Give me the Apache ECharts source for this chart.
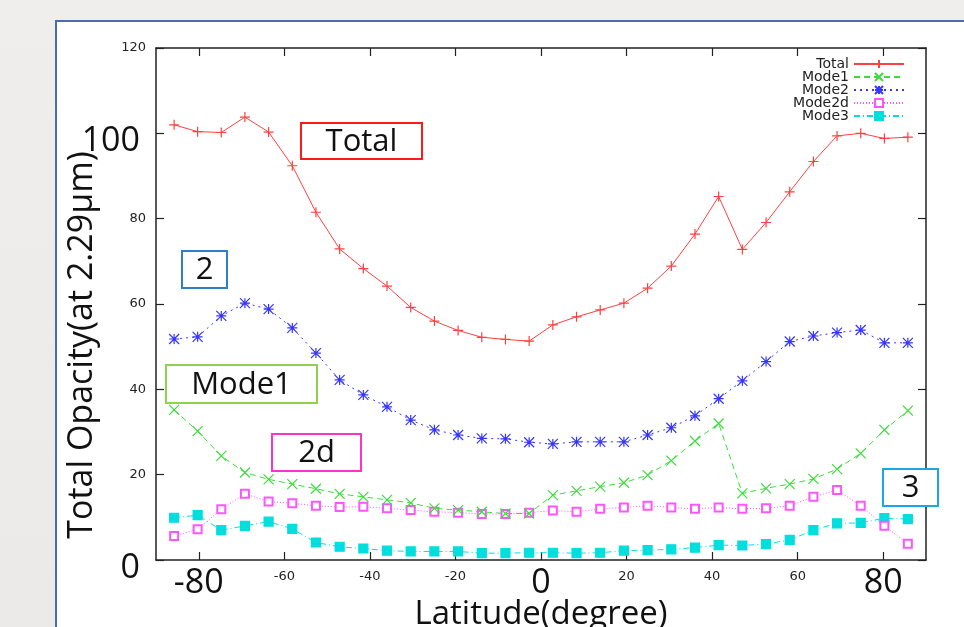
<!DOCTYPE html>
<html>
<head>
<meta charset="utf-8">
<script src="https://cdn.jsdelivr.net/npm/echarts@6/dist/echarts.min.js"></script>
<style>
  html, body { margin: 0; padding: 0; width: 964px; height: 627px; overflow: hidden;
    background: linear-gradient(#efeeec, #ebeae8); }
  #frame { position: absolute; left: 55px; top: 20px; width: 1000px; height: 700px;
    background: #ffffff; border: 2px solid #4a6fa8; }
  #chart { position: absolute; left: 0; top: 0; width: 964px; height: 627px; }
</style>
</head>
<body>
<div id="frame"></div>
<div id="chart"></div>
<script>
// Latitudes (degree) of the data points
const latitudes = [-85.76, -80.27, -74.74, -69.21, -63.68, -58.14, -52.61, -47.07, -41.53, -36.00,
  -30.46, -24.92, -19.38, -13.84, -8.31, -2.77, 2.77, 8.31, 13.84, 19.38, 24.92, 30.46, 36.00,
  41.53, 47.07, 52.61, 58.14, 63.68, 69.21, 74.74, 80.27, 85.76];

const total  = [102.0, 100.4, 100.2, 103.8, 100.3, 92.4, 81.5, 72.9, 68.3, 64.2, 59.2, 56.0, 53.8, 52.2, 51.7, 51.3,
  55.1, 57.0, 58.6, 60.2, 63.7, 68.9, 76.4, 85.2, 72.8, 79.1, 86.3, 93.4, 99.4, 100.0, 98.8, 99.1];
const mode1  = [35.2, 30.2, 24.4, 20.5, 18.9, 17.8, 16.7, 15.5, 14.8, 14.1, 13.4, 12.1, 11.7, 11.3, 10.9, 10.9,
  15.2, 16.2, 17.2, 18.1, 19.9, 23.3, 27.9, 32.0, 15.6, 16.8, 17.8, 19.0, 21.3, 25.0, 30.5, 35.0];
const mode2  = [51.8, 52.3, 57.2, 60.2, 58.8, 54.4, 48.5, 42.2, 38.7, 35.9, 32.8, 30.5, 29.3, 28.5, 28.4, 27.6,
  27.2, 27.7, 27.7, 27.7, 29.3, 31.0, 33.8, 37.8, 42.0, 46.5, 51.2, 52.5, 53.3, 53.9, 50.9, 50.9];
const mode2d = [5.6, 7.2, 11.9, 15.5, 13.7, 13.3, 12.7, 12.4, 12.5, 12.1, 11.7, 11.3, 11.1, 10.8, 10.8, 11.1,
  11.6, 11.3, 12.0, 12.3, 12.7, 12.3, 12.0, 12.3, 12.0, 12.1, 12.7, 14.8, 16.4, 12.7, 8.0, 3.8];
const mode3  = [9.9, 10.5, 7.0, 8.0, 9.0, 7.3, 4.1, 3.1, 2.7, 2.2, 2.0, 2.0, 2.0, 1.6, 1.6, 1.7,
  1.7, 1.6, 1.7, 2.2, 2.3, 2.5, 2.9, 3.5, 3.4, 3.75, 4.7, 7.0, 8.6, 8.7, 9.8, 9.6];

const seriesNames = ['Total', 'Mode1', 'Mode2', 'Mode2d', 'Mode3'];
const xTicks = [-80, -60, -40, -20, 0, 20, 40, 60, 80];
const yTicks = [0, 20, 40, 60, 80, 100, 120];
const bigXTicks = [-80, 0, 80];
const bigYTicks = [0, 100];

// annotation boxes: label text, colour
const noteLabels = ['Total', '2', 'Mode1', '2d', '3'];
const noteColors = ['#ff1a1a', '#2f7fc6', '#92d050', '#ff33cc', '#1aa7e6'];

const chart = echarts.init(document.getElementById('chart'), null, { renderer: 'canvas' });

function pairs(ys) { return latitudes.map((x, i) => [x, ys[i]]); }

const SMALL = { fontFamily: 'DejaVu Sans', fontSize: 13, color: '#222', lineHeight: 18 };
const BIG = { fontFamily: 'Open Sans', fontSize: 34, color: '#111', lineHeight: 30 };

const axisLineStyle = { color: '#222', width: 1.5 };

const symPlus = 'path://M5,0L5,10M0,5L10,5';
const symCross = 'path://M0,0L10,10M0,10L10,0';
const symStar = 'path://M0,0L10,10M0,10L10,0M5,0L5,10M0,5L10,5';

const styles = [
  { color: '#ff4040', type: 'solid', symbol: symPlus, size: 10 },
  { color: '#3cdc3c', type: [6, 4], symbol: symCross, size: 10 },
  { color: '#3535ff', type: [2, 4], symbol: symStar, size: 10 },
  { color: '#ff55ff', type: [1, 2], symbol: 'emptyRect', size: 8 },
  { color: '#00dede', type: [6, 3, 1, 3], symbol: 'rect', size: 9 }
];
const dataSets = [total, mode1, mode2, mode2d, mode3];

const legendRows = [57, 70, 83, 96, 109];

const tickStyle = { color: '#222', width: 1.2 };

const option = {
  backgroundColor: 'transparent',
  animation: false,
  grid: { left: 156, top: 48, width: 770, height: 512, containLabel: false, outerBoundsMode: 'none' },
  xAxis: [{
    type: 'value', min: -90, max: 90, position: 'bottom',
    name: 'Latitude(degree)', nameLocation: 'middle', nameGap: 38, nameMoveOverlap: false,
    nameTextStyle: { fontFamily: 'Open Sans', fontSize: 33, color: '#111' },
    axisLine: { show: true, onZero: false, lineStyle: axisLineStyle },
    axisTick: { show: true, inside: true, length: 8, lineStyle: tickStyle, customValues: xTicks },
    axisLabel: {
      show: true, margin: 8, customValues: xTicks,
      formatter: v => bigXTicks.includes(v) ? '{b|' + v + '}' : '{s|' + v + '}',
      rich: { b: BIG, s: SMALL }
    },
    splitLine: { show: false }
  }, {
    type: 'value', min: -90, max: 90, position: 'top',
    axisLine: { show: true, onZero: false, lineStyle: axisLineStyle },
    axisTick: { show: true, inside: true, length: 8, lineStyle: tickStyle, customValues: xTicks },
    axisLabel: { show: false },
    splitLine: { show: false }
  }],
  yAxis: [{
    type: 'value', min: 0, max: 120, interval: 20, position: 'left',
    name: 'Total Opacity(at 2.29\u03bcm)', nameLocation: 'middle', nameGap: 57, nameRotate: 90,
    nameMoveOverlap: false,
    nameTextStyle: { fontFamily: 'Open Sans', fontSize: 34, color: '#111', padding: [0, 82, 0, 0] },
    axisLine: { show: true, onZero: false, lineStyle: axisLineStyle },
    axisTick: { show: true, inside: true, length: 8, lineStyle: tickStyle },
    axisLabel: {
      show: true, margin: 10,
      formatter: v => bigYTicks.includes(v) ? '{b|' + v + '}' : '{s|' + v + '}',
      rich: { b: Object.assign({}, BIG, { padding: [16, 6, 0, 0] }), s: SMALL }
    },
    splitLine: { show: false }
  }, {
    type: 'value', min: 0, max: 120, interval: 20, position: 'right',
    axisLine: { show: true, onZero: false, lineStyle: axisLineStyle },
    axisTick: { show: true, inside: true, length: 8, lineStyle: tickStyle },
    axisLabel: { show: false },
    splitLine: { show: false }
  }],
  legend: seriesNames.map((n, i) => ({
    data: [n], orient: 'vertical', align: 'right', right: 59, top: legendRows[i],
    itemWidth: 50, itemHeight: 10, padding: 0, itemGap: 0,
    textStyle: { fontFamily: 'DejaVu Sans', fontSize: 14, color: '#222' }
  })),
  series: seriesNames.map((n, i) => ({
    name: n, type: 'line', xAxisIndex: 0, yAxisIndex: 0,
    data: pairs(dataSets[i]),
    symbol: styles[i].symbol, symbolSize: styles[i].size, showSymbol: true,
    lineStyle: { color: styles[i].color, width: 1, type: styles[i].type },
    itemStyle: { color: styles[i].color, borderColor: styles[i].color, borderWidth: 1.2 },
    z: 5 - i
  })),
  graphic: [
    [300, 122, 121, 36], [181, 250, 45, 37], [165, 364, 151, 38], [271, 433, 89, 37], [882, 468, 55, 37]
  ].map((b, i) => ({
    type: 'group', left: b[0], top: b[1], z: 100,
    children: [
      { type: 'rect', z: 100, shape: { x: 0, y: 0, width: b[2], height: b[3] },
        style: { fill: '#ffffff', stroke: noteColors[i], lineWidth: 2 } },
      { type: 'text', z: 101, x: b[2] / 2, y: b[3] / 2 + 1,
        style: { text: noteLabels[i], fill: '#111', font: '31px "Open Sans"', align: 'center', verticalAlign: 'middle' } }
    ]
  }))
};

chart.setOption(option);
</script>
</body>
</html>
